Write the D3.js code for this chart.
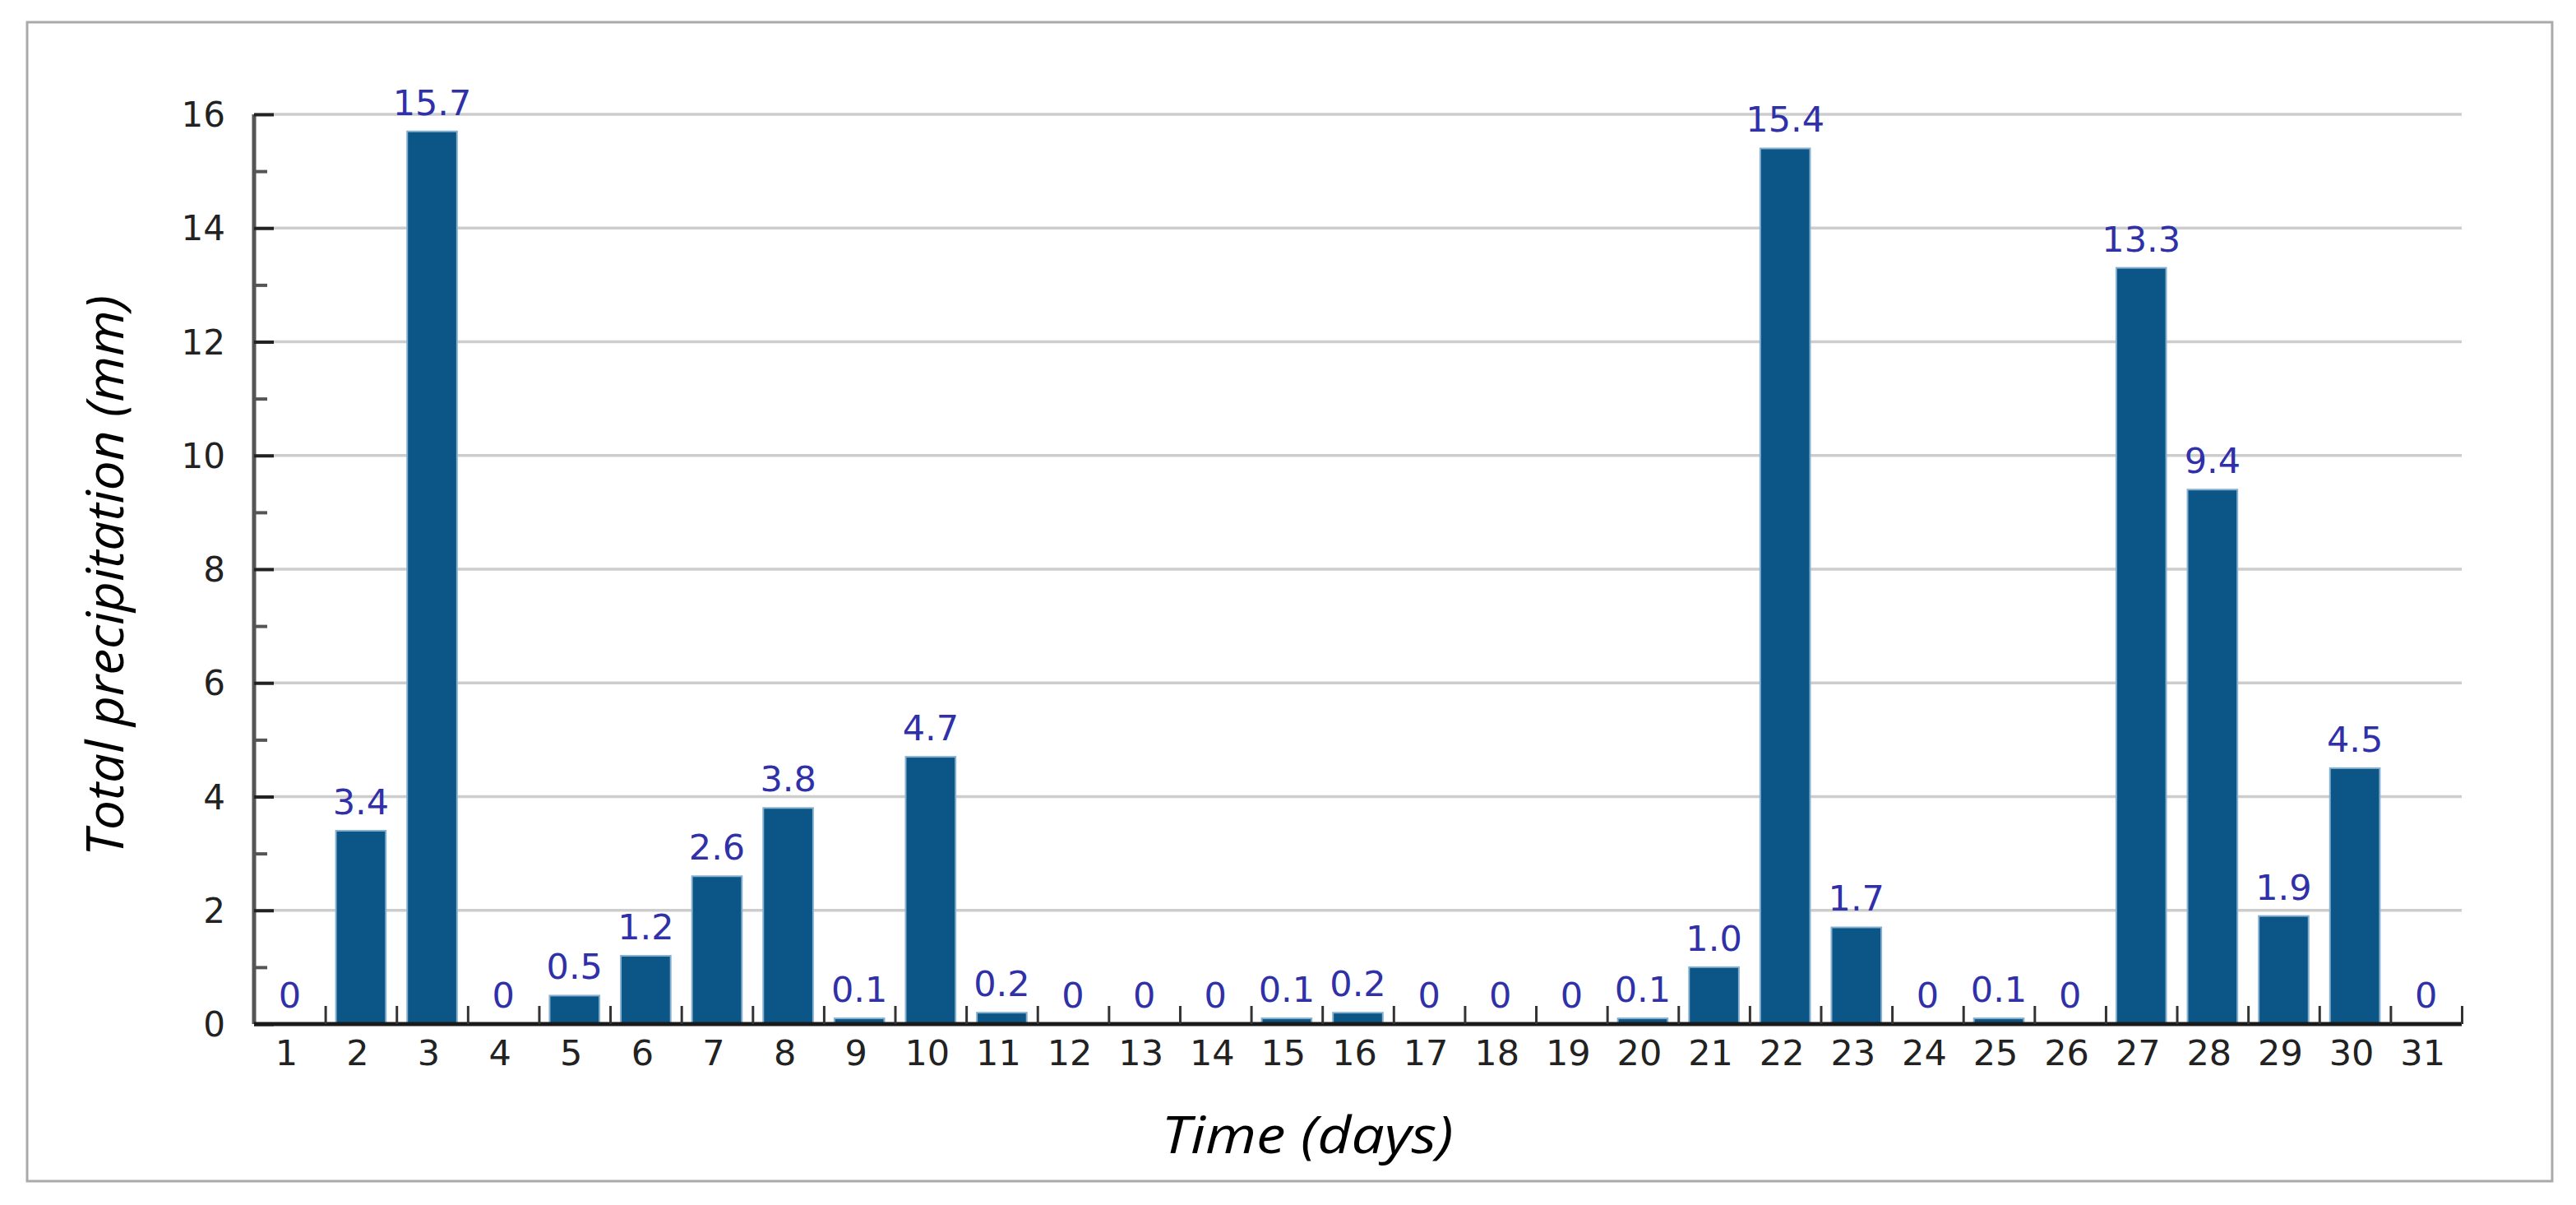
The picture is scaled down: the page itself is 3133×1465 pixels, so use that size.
<!DOCTYPE html>
<html>
<head>
<meta charset="utf-8">
<script src="https://cdn.jsdelivr.net/npm/d3@7"></script>
<style>
  html, body { margin: 0; padding: 0; background: #fff; }
  svg { display: block; }
</style>
</head>
<body>
<script>
const days = d3.range(1, 32).map(String);
const precipitation = [0, 3.4, 15.7, 0, 0.5, 1.2, 2.6, 3.8, 0.1, 4.7, 0.2, 0, 0, 0, 0.1, 0.2, 0, 0, 0, 0.1, 1.0, 15.4, 1.7, 0, 0.1, 0, 13.3, 9.4, 1.9, 4.5, 0];
const yTicks = [0, 2, 4, 6, 8, 10, 12, 14, 16];
const yMinorTicks = [1, 3, 5, 7, 9, 11, 13, 15];
const xTitle = "Time (days)";
const yTitle = "Total precipitation (mm)";

const W = 3133, H = 1465;
const svg = d3.select("body").append("svg").attr("width", W).attr("height", H);

// frame
svg.append("rect").attr("x", 33).attr("y", 27).attr("width", 3071).attr("height", 1409)
  .attr("fill", "#fff").attr("stroke", "#aaaaaa").attr("stroke-width", 3);

const X0 = 309, X1 = 2994;
const x = d3.scaleBand().domain(days).range([X0, X1]).paddingInner(0.3).paddingOuter(0.15);
const y = d3.scaleLinear().domain([0, 16]).range([1245, 139]);

const tickFont = "'DejaVu Sans', sans-serif";

// gridlines
svg.append("g").selectAll("line").data(yTicks.filter(d => d > 0)).join("line")
  .attr("x1", X0).attr("x2", X1)
  .attr("y1", d => y(d)).attr("y2", d => y(d))
  .attr("stroke", "#cdcdcd").attr("stroke-width", 3.5);

// bars
svg.append("g").selectAll("rect").data(precipitation).join("rect")
  .attr("x", (d, i) => x(days[i]))
  .attr("y", d => y(d))
  .attr("width", x.bandwidth())
  .attr("height", d => y(0) - y(d))
  .attr("fill", "#0b5686")
  .attr("stroke", d => d > 0 ? "#86b0d0" : "none")
  .attr("stroke-width", 2);

// value labels
svg.append("g").selectAll("text").data(precipitation).join("text")
  .attr("x", (d, i) => x(days[i]) + x.bandwidth() / 2)
  .attr("y", d => y(d) - 20)
  .attr("text-anchor", "middle")
  .attr("font-family", tickFont)
  .attr("font-size", 43)
  .attr("fill", "#3030a8")
  .text(d => d === 0 ? "0" : d.toFixed(1));

// y axis (major + minor ticks pointing inward)
const yAxis = d3.axisRight(y).tickValues(yTicks).tickSize(24).tickFormat("");
const gy = svg.append("g").attr("transform", `translate(${X0},0)`).call(yAxis);
gy.select(".domain").attr("stroke", "#555").attr("stroke-width", 5).attr("d", `M0,${y(16)}V${y(0)}`);
gy.selectAll(".tick line").attr("stroke", "#222").attr("stroke-width", 4);
const yMinor = d3.axisRight(y).tickValues(yMinorTicks).tickSize(16).tickFormat("");
const gy2 = svg.append("g").attr("transform", `translate(${X0},0)`).call(yMinor);
gy2.select(".domain").remove();
gy2.selectAll(".tick line").attr("stroke", "#555").attr("stroke-width", 4);

// y tick labels
svg.append("g").selectAll("text").data(yTicks).join("text")
  .attr("x", 274).attr("y", d => y(d) + 15)
  .attr("text-anchor", "end")
  .attr("font-family", tickFont).attr("font-size", 42).attr("fill", "#222")
  .text(d => d);

// x axis with ticks at the boundaries between days
const xb = d3.scaleLinear().domain([0, days.length]).range([X0, X1]);
const xAxis = d3.axisTop(xb).tickValues(d3.range(1, days.length + 1)).tickSize(22).tickFormat("");
const gx = svg.append("g").attr("transform", `translate(0,${y(0)})`).call(xAxis);
gx.select(".domain").attr("stroke", "#1a1a1a").attr("stroke-width", 5).attr("d", `M${X0},0H${X1}`);
gx.selectAll(".tick line").attr("stroke", "#333").attr("stroke-width", 3);

// x tick labels
svg.append("g").selectAll("text").data(days).join("text")
  .attr("x", d => x(d) + x.bandwidth() / 2 - 4)
  .attr("y", 1295)
  .attr("text-anchor", "middle")
  .attr("font-family", tickFont).attr("font-size", 43).attr("fill", "#222")
  .text(d => d);

// titles
svg.append("text").attr("x", 1590).attr("y", 1402)
  .attr("text-anchor", "middle")
  .attr("font-family", "'Open Sans', sans-serif").attr("font-style", "italic")
  .attr("font-size", 63).attr("fill", "#000")
  .attr("textLength", 355).attr("lengthAdjust", "spacingAndGlyphs")
  .text(xTitle);

svg.append("text")
  .attr("transform", "translate(150,700) rotate(-90)")
  .attr("text-anchor", "middle")
  .attr("font-family", "'Open Sans', sans-serif").attr("font-style", "italic")
  .attr("font-size", 63).attr("fill", "#000")
  .attr("textLength", 682).attr("lengthAdjust", "spacingAndGlyphs")
  .text(yTitle);
</script>
</body>
</html>
